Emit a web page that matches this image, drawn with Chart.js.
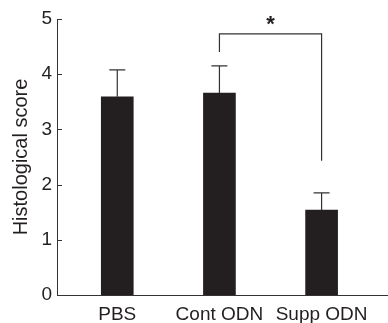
<!DOCTYPE html>
<html lang="en">
<head>
    <meta charset="UTF-8">
    <title>Histological score</title>
    <script src="https://cdn.jsdelivr.net/npm/chart.js@4.4.0/dist/chart.umd.min.js"></script>
    <style>
        html, body { margin: 0; padding: 0; background: #fff; }
        #wrap { width: 388px; height: 323px; }
    </style>
</head>
<body>
    <div id="wrap"><canvas id="chart"></canvas></div>

    <script>
        // Data
        const groups = ['PBS', 'Cont ODN', 'Supp ODN'];
        const groupPos = [1, 2, 3];
        const means = [3.59, 3.66, 1.54];
        const sems = [0.49, 0.49, 0.31];
        const yTicks = [0, 1, 2, 3, 4, 5];

        // Significance bracket between Cont ODN and Supp ODN
        const sigPair = [2, 3];
        const sigTop = 4.73;
        const sigLegEnds = [4.40, 2.43];
        const sigMark = '*';

        const ink = '#231f20';
        const lineInk = '#333';
        const fontFam = '"Liberation Sans", Arial, Helvetica, sans-serif';

        // Error bars, inward y ticks and the bracket
        const extras = {
            id: 'extras',
            afterDatasetsDraw(chart) {
                const ctx = chart.ctx;
                const x = chart.scales.x;
                const y = chart.scales.y;
                ctx.save();
                ctx.strokeStyle = lineInk;
                ctx.lineWidth = 1.2;

                // error bars (upper only)
                means.forEach((m, i) => {
                    const cx = x.getPixelForValue(groupPos[i]);
                    const top = y.getPixelForValue(m + sems[i]);
                    ctx.beginPath();
                    ctx.moveTo(cx, y.getPixelForValue(m));
                    ctx.lineTo(cx, top);
                    ctx.moveTo(cx - 8, top);
                    ctx.lineTo(cx + 8, top);
                    ctx.stroke();
                });

                // tick marks pointing into the plot
                ctx.lineWidth = 1;
                yTicks.forEach(v => {
                    const py = Math.round(y.getPixelForValue(v)) + 0.5;
                    ctx.beginPath();
                    ctx.moveTo(x.left, py);
                    ctx.lineTo(x.left + 5, py);
                    ctx.stroke();
                });

                // bracket
                const x1 = x.getPixelForValue(sigPair[0]);
                const x2 = x.getPixelForValue(sigPair[1]);
                const yt = y.getPixelForValue(sigTop);
                ctx.lineWidth = 1.2;
                ctx.beginPath();
                ctx.moveTo(x1, y.getPixelForValue(sigLegEnds[0]));
                ctx.lineTo(x1, yt);
                ctx.lineTo(x2, yt);
                ctx.lineTo(x2, y.getPixelForValue(sigLegEnds[1]));
                ctx.stroke();

                ctx.fillStyle = ink;
                ctx.font = 'bold 22px ' + fontFam;
                ctx.textAlign = 'center';
                ctx.textBaseline = 'middle';
                ctx.fillText(sigMark, (x1 + x2) / 2, yt - 9);
                ctx.restore();
            }
        };

        new Chart(document.getElementById('chart'), {
            type: 'bar',
            data: {
                datasets: [{
                    data: groupPos.map((p, i) => ({ x: p, y: means[i] })),
                    backgroundColor: ink,
                    borderWidth: 0,
                    barThickness: 32
                }]
            },
            options: {
                responsive: true,
                maintainAspectRatio: false,
                animation: false,
                layout: { padding: { top: 19, right: 0, bottom: 0, left: 0 } },
                plugins: {
                    legend: { display: false },
                    tooltip: { enabled: false }
                },
                scales: {
                    x: {
                        type: 'linear',
                        offset: false,
                        min: 0.41,
                        max: 3.65,
                        afterBuildTicks: s => { s.ticks = groupPos.map(v => ({ value: v })); },
                        afterFit: s => { s.height = 28; },
                        grid: { display: false, drawTicks: false },
                        border: { display: true, color: lineInk, width: 1 },
                        ticks: {
                            padding: 8,
                            color: ink,
                            maxRotation: 0,
                            autoSkip: false,
                            font: { family: fontFam, size: 19 },
                            callback: v => groups[groupPos.indexOf(v)] ?? ''
                        }
                    },
                    y: {
                        min: 0,
                        max: 5,
                        afterBuildTicks: s => { s.ticks = yTicks.map(v => ({ value: v })); },
                        afterFit: s => { s.width = 57; },
                        grid: { display: false, drawTicks: false },
                        border: { display: true, color: lineInk, width: 1 },
                        ticks: {
                            padding: 5,
                            color: ink,
                            font: { family: fontFam, size: 19 }
                        },
                        title: {
                            display: true,
                            text: 'Histological score',
                            color: ink,
                            padding: { top: 9, bottom: 0 },
                            font: { family: fontFam, size: 20 }
                        }
                    }
                }
            },
            plugins: [extras]
        });
    </script>
</body>
</html>
